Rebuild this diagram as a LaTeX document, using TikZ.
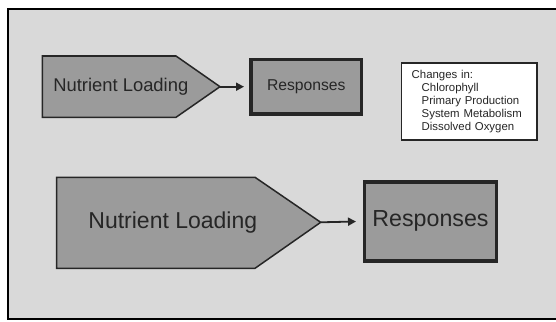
\documentclass[tikz,border=0pt]{standalone}
\usepackage{fontspec}
\setmainfont{Liberation Sans}
\usetikzlibrary{arrows.meta}
\definecolor{bg}{HTML}{D9D9D9}
\definecolor{shape}{HTML}{9B9B9B}
\definecolor{ink}{HTML}{262626}
\begin{document}
\begin{tikzpicture}[x=1pt,y=-1pt,
  pent/.style={fill=shape,draw=ink,line width=1.5pt,line join=miter},
  respbox/.style={draw=ink,fill=shape,line width=3.5pt,inner sep=0pt,text=ink},
  label/.style={text=ink,inner sep=0pt},
  conn/.style={draw=ink,line width=1.8pt,-{Triangle[length=8pt,width=8pt]}},
  changebox/.style={draw=ink,fill=white,line width=1.5pt,align=left,text=ink,
    font=\fontsize{11.4}{13.2}\selectfont,inner xsep=10.25pt,inner ysep=0pt,
    text width=115pt,minimum height=76.9pt}]
\useasboundingbox (0,0) rectangle (556,321);
\clip (0,0) rectangle (556,321);
% frame
\draw[fill=bg,draw=black,line width=2pt] (8,9.5) rectangle (580,319);
% top row
\draw[pent] (42.3,56) -- (176,56) -- (220,86.7) -- (176,117.3) -- (42.3,117.3) -- cycle;
\coordinate (tip1) at (220,86.7);
\node[label,font=\fontsize{18.4}{22}\selectfont] (nl1) at (120.8,87) {Nutrient Loading};
\node[respbox,minimum width=110.5pt,minimum height=54.3pt,font=\fontsize{15.7}{19}\selectfont] (r1) at (306.3,86.7) {Responses};
\draw[conn,shorten >=5.3pt] (tip1) -- (r1.west);
\node[changebox] (ch) at (469.2,101.5) {Changes in:\\
\hspace*{10pt}Chlorophyll\\
\hspace*{10pt}Primary Production\\
\hspace*{10pt}System Metabolism\\
\hspace*{10pt}Dissolved Oxygen};
% bottom row
\draw[pent] (56.7,177.3) -- (255,177.3) -- (320.7,222.3) -- (255,268.3) -- (56.7,268.3) -- cycle;
\coordinate (tip2) at (320.7,222.3);
\node[label,font=\fontsize{23}{27}\selectfont] (nl2) at (172.8,223) {Nutrient Loading};
\node[respbox,minimum width=132.1pt,minimum height=79.2pt,font=\fontsize{23.2}{27}\selectfont] (r2) at (430.5,221.35) {Responses};
\draw[conn,shorten >=6.7pt] (tip2) -- (r2.west);
\end{tikzpicture}
\end{document}
